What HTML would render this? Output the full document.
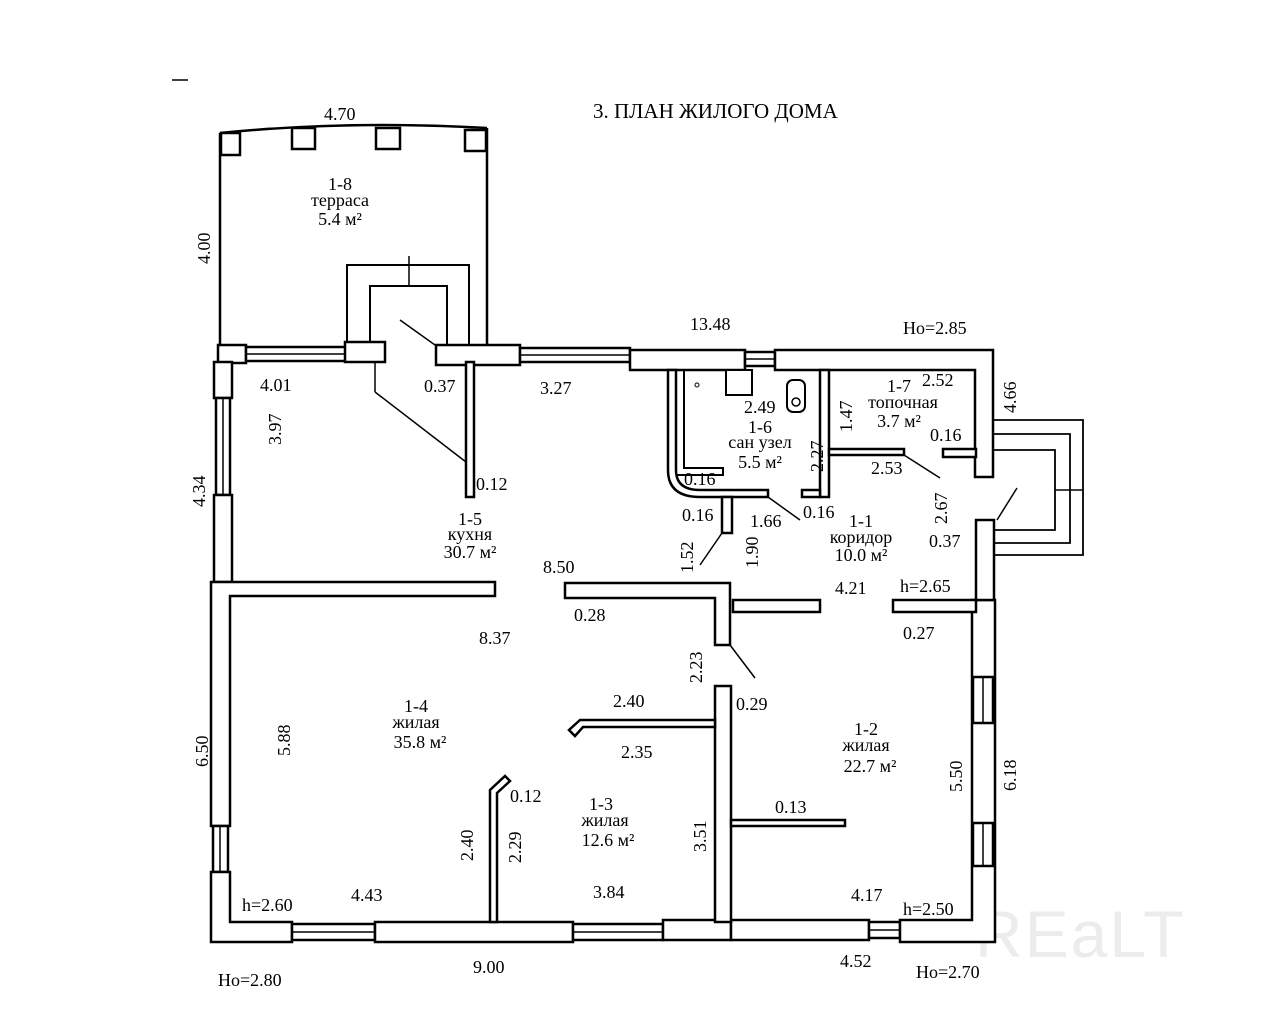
<!DOCTYPE html>
<html><head><meta charset="utf-8"><style>
html,body{margin:0;padding:0;background:#fff;}
svg{display:block;}
text{font-family:"Liberation Serif","DejaVu Serif",serif;font-size:18px;fill:#000;}
</style></head><body>
<svg width="1280" height="1029" viewBox="0 0 1280 1029" xmlns="http://www.w3.org/2000/svg">
<text x="975" y="957" style="font-family:'Liberation Sans',sans-serif;font-size:66px;fill:#ececec;letter-spacing:2px;">REaLT</text>
<g fill="#fff" stroke="#000" stroke-width="2.5">
<path d="M220 133 Q350 120 487 128" fill="none"/>
<line x1="220" y1="133" x2="220" y2="345"/>
<line x1="487" y1="128" x2="487" y2="345"/>
<rect x="221" y="133" width="19" height="22"/>
<rect x="292" y="128" width="23" height="21"/>
<rect x="376" y="128" width="24" height="21"/>
<rect x="465" y="130" width="21" height="21"/>
<path d="M347 345 L347 265 L469 265 L469 345" fill="none" stroke-width="2"/>
<path d="M370 345 L370 286 L447 286 L447 345" fill="none" stroke-width="2"/>
<line x1="409" y1="256" x2="409" y2="286" stroke-width="1.5"/>
<line x1="400" y1="320" x2="435" y2="345" stroke-width="1.5"/>
<rect x="218" y="345" width="28" height="18"/>
<rect x="246" y="347" width="100" height="14"/>
<line x1="246" y1="354" x2="346" y2="354" stroke-width="1.5"/>
<rect x="345" y="342" width="40" height="20"/>
<rect x="436" y="345" width="84" height="20"/>
<rect x="520" y="348" width="110" height="14"/>
<line x1="520" y1="355" x2="630" y2="355" stroke-width="1.5"/>
<rect x="630" y="350" width="115" height="20"/>
<rect x="745" y="352" width="30" height="14"/>
<line x1="745" y1="359" x2="775" y2="359" stroke-width="1.5"/>
<path d="M775 350 L993 350 L993 477 L975 477 L975 370 L775 370 Z"/>
<rect x="214" y="362" width="18" height="36" />
<rect x="216" y="398" width="14" height="97"/>
<line x1="223" y1="398" x2="223" y2="495" stroke-width="1.5"/>
<rect x="214" y="495" width="18" height="87"/>
<path d="M211 582 L495 582 L495 596 L230 596 L230 826 L211 826 Z"/>
<rect x="213" y="826" width="15" height="46"/>
<line x1="220" y1="826" x2="220" y2="872" stroke-width="1.5"/>
<path d="M211 872 L230 872 L230 922 L292 922 L292 942 L211 942 Z"/>
<rect x="292" y="924" width="83" height="16"/>
<line x1="292" y1="932" x2="375" y2="932" stroke-width="1.5"/>
<rect x="375" y="922" width="198" height="20"/>
<rect x="573" y="924" width="90" height="16"/>
<line x1="573" y1="932" x2="663" y2="932" stroke-width="1.5"/>
<rect x="663" y="920" width="68" height="20"/>
<rect x="731" y="920" width="138" height="20"/>
<rect x="869" y="922" width="31" height="16"/>
<line x1="869" y1="930" x2="900" y2="930" stroke-width="1.5"/>
<path d="M900 920 L972 920 L972 600 L995 600 L995 942 L900 942 Z"/>
<rect x="973" y="677" width="20" height="46"/>
<line x1="983" y1="677" x2="983" y2="723" stroke-width="1.5"/>
<rect x="973" y="823" width="20" height="43"/>
<line x1="983" y1="823" x2="983" y2="866" stroke-width="1.5"/>
<path d="M976 520 L994 520 L994 600 L976 600 Z"/>
<path d="M893 600 L976 600 L976 612 L893 612 Z"/>
<rect x="943" y="449" width="33" height="8"/>
<path d="M994 420 L1083 420 L1083 555 L994 555" fill="none" stroke-width="1.8"/>
<path d="M994 434 L1070 434 L1070 543 L994 543" fill="none" stroke-width="1.8"/>
<path d="M994 450 L1055 450 L1055 530 L994 530" fill="none" stroke-width="1.8"/>
<line x1="1055" y1="490" x2="1083" y2="490" stroke-width="1.5"/>
<line x1="997" y1="520" x2="1017" y2="488" stroke-width="1.5"/>
<rect x="466" y="362" width="8" height="135"/>
<line x1="375" y1="362" x2="375" y2="392" stroke-width="1.5"/>
<line x1="375" y1="392" x2="466" y2="462" stroke-width="1.5"/>
<path d="M565 583 L730 583 L730 645 L715 645 L715 598 L565 598 Z"/>
<rect x="733" y="600" width="87" height="12"/>
<line x1="730" y1="645" x2="755" y2="678" stroke-width="1.5"/>
<rect x="715" y="686" width="16" height="236"/>
<path d="M715 720 L580 720 L569 730 L575 736 L583 727 L715 727 Z"/>
<path d="M490 922 L490 790 L505 776 L510 781 L497 793 L497 922 Z"/>
<rect x="731" y="820" width="114" height="6"/>
<path d="M668 370 L676 370 L676 470 Q676 490 700 490 L768 490 L768 497 L700 497 Q668 497 668 470 Z"/>
<path d="M676 370 L684 370 L684 468 L723 468 L723 475 L676 475" fill="none" stroke-width="2"/>
<rect x="722" y="497" width="10" height="36"/>
<line x1="722" y1="533" x2="700" y2="565" stroke-width="1.5"/>
<line x1="768" y1="497" x2="800" y2="520" stroke-width="1.5"/>
<rect x="820" y="370" width="9" height="127"/>
<rect x="802" y="490" width="18" height="7"/>
<rect x="829" y="449" width="75" height="6"/>
<line x1="904" y1="455" x2="940" y2="478" stroke-width="1.5"/>
<rect x="726" y="370" width="26" height="25" stroke-width="2"/>
<rect x="787" y="380" width="18" height="32" rx="6" stroke-width="2"/>
<circle cx="796" cy="402" r="4" stroke-width="1.5"/>
<circle cx="697" cy="385" r="2" stroke-width="1"/>
</g>
<g>
<text x="593" y="118" style="font-size:21px">3. ПЛАН ЖИЛОГО ДОМА</text>
<text x="324" y="120">4.70</text>
<text x="340" y="190" text-anchor="middle">1-8</text>
<text x="340" y="206" text-anchor="middle">терраса</text>
<text x="340" y="225" text-anchor="middle">5.4 м²</text>
<text transform="translate(210,264) rotate(-90)">4.00</text>
<text x="690" y="330">13.48</text>
<text x="903" y="334">Ho=2.85</text>
<text x="260" y="391">4.01</text>
<text x="424" y="392">0.37</text>
<text x="540" y="394">3.27</text>
<text x="476" y="490">0.12</text>
<text transform="translate(281,445) rotate(-90)">3.97</text>
<text transform="translate(205,507) rotate(-90)">4.34</text>
<text x="470" y="525" text-anchor="middle">1-5</text>
<text x="470" y="540" text-anchor="middle">кухня</text>
<text x="470" y="558" text-anchor="middle">30.7 м²</text>
<text x="543" y="573">8.50</text>
<text x="744" y="413">2.49</text>
<text x="760" y="433" text-anchor="middle">1-6</text>
<text x="760" y="448" text-anchor="middle">сан узел</text>
<text x="760" y="468" text-anchor="middle">5.5 м²</text>
<text transform="translate(823,472) rotate(-90)">2.27</text>
<text transform="translate(852,432) rotate(-90)">1.47</text>
<text x="922" y="386">2.52</text>
<text x="899" y="392" text-anchor="middle">1-7</text>
<text x="903" y="408" text-anchor="middle">топочная</text>
<text x="899" y="427" text-anchor="middle">3.7 м²</text>
<text x="930" y="441">0.16</text>
<text transform="translate(1016,413) rotate(-90)">4.66</text>
<text x="871" y="474">2.53</text>
<text x="684" y="485">0.16</text>
<text x="682" y="521">0.16</text>
<text x="750" y="527">1.66</text>
<text x="803" y="518">0.16</text>
<text transform="translate(947,524) rotate(-90)">2.67</text>
<text x="861" y="527" text-anchor="middle">1-1</text>
<text x="861" y="543" text-anchor="middle">коридор</text>
<text x="861" y="561" text-anchor="middle">10.0 м²</text>
<text x="929" y="547">0.37</text>
<text transform="translate(693,573) rotate(-90)">1.52</text>
<text transform="translate(758,568) rotate(-90)">1.90</text>
<text x="835" y="594">4.21</text>
<text x="900" y="592">h=2.65</text>
<text x="574" y="621">0.28</text>
<text x="903" y="639">0.27</text>
<text x="479" y="644">8.37</text>
<text transform="translate(702,683) rotate(-90)">2.23</text>
<text x="736" y="710">0.29</text>
<text x="613" y="707">2.40</text>
<text x="621" y="758">2.35</text>
<text transform="translate(290,756) rotate(-90)">5.88</text>
<text transform="translate(208,767) rotate(-90)">6.50</text>
<text x="416" y="712" text-anchor="middle">1-4</text>
<text x="416" y="728" text-anchor="middle">жилая</text>
<text x="420" y="748" text-anchor="middle">35.8 м²</text>
<text x="866" y="735" text-anchor="middle">1-2</text>
<text x="866" y="751" text-anchor="middle">жилая</text>
<text x="870" y="772" text-anchor="middle">22.7 м²</text>
<text transform="translate(962,792) rotate(-90)">5.50</text>
<text transform="translate(1016,791) rotate(-90)">6.18</text>
<text x="510" y="802">0.12</text>
<text x="775" y="813">0.13</text>
<text x="601" y="810" text-anchor="middle">1-3</text>
<text x="605" y="826" text-anchor="middle">жилая</text>
<text x="608" y="846" text-anchor="middle">12.6 м²</text>
<text transform="translate(706,852) rotate(-90)">3.51</text>
<text transform="translate(473,861) rotate(-90)">2.40</text>
<text transform="translate(521,863) rotate(-90)">2.29</text>
<text x="242" y="911">h=2.60</text>
<text x="351" y="901">4.43</text>
<text x="593" y="898">3.84</text>
<text x="851" y="901">4.17</text>
<text x="903" y="915">h=2.50</text>
<text x="473" y="973">9.00</text>
<text x="840" y="967">4.52</text>
<text x="218" y="986">Ho=2.80</text>
<text x="916" y="978">Ho=2.70</text>
<line x1="172" y1="80" x2="188" y2="80" stroke="#000" stroke-width="1.5"/>
</g>
</svg>
</body></html>
